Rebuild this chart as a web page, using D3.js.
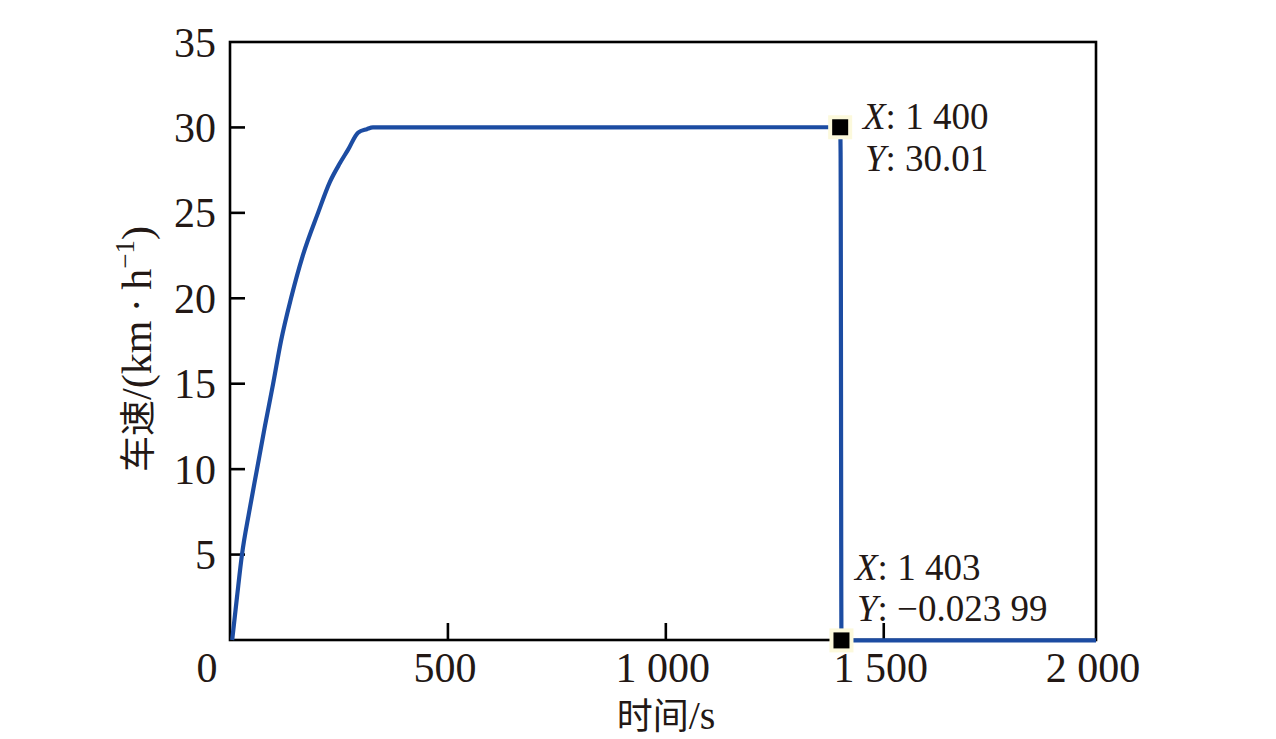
<!DOCTYPE html>
<html><head><meta charset="utf-8">
<script src="https://cdn.jsdelivr.net/npm/d3@7/dist/d3.min.js"></script>
<style>
html,body{margin:0;padding:0;background:#fff;}
svg{display:block;}
</style></head>
<body>
<script>
// ---- data ----
const timeS  = [5, 16, 27.5, 44, 62, 80, 99, 117, 140, 167, 202, 229, 252, 271, 294, 314, 328, 1400, 1401, 1403, 2000];
const speed  = [0, 2.5, 5, 7.5, 10, 12.5, 15, 17.5, 20, 22.5, 25, 26.8, 27.9, 28.7, 29.7, 29.9, 30, 30.01, 28.5, -0.02399, -0.02399];
const xTicks = [0, 500, 1000, 1500, 2000];
const xTickLabels = ["0", "500", "1 000", "1 500", "2 000"];
const yTicks = [5, 10, 15, 20, 25, 30, 35];
const yTickLabels = ["5", "10", "15", "20", "25", "30", "35"];
const tipT = [1400, 1403];
const tipV = [30.01, -0.02399];
const tipXText = ["1 400", "1 403"];
const tipYText = ["30.01", "\u22120.023 99"];

const W = 1276, H = 739;
const L = 230, R = 1096, T = 42, B = 640;
const ink = "#231815", blue = "#1c4ca2";
const serif = "'Liberation Serif','Times New Roman',serif";
const cjk = "'Noto Sans CJK SC',sans-serif";

const svg = d3.select("body").append("svg").attr("width", W).attr("height", H);
const x = d3.scaleLinear().domain([0, 1987]).range([L, R]).clamp(true);
const y = d3.scaleLinear().domain([0, 35]).range([B, T]);

// frame
svg.append("rect").attr("x", L).attr("y", T).attr("width", R - L).attr("height", B - T)
  .attr("fill", "none").attr("stroke", "#000").attr("stroke-width", 2.6);

// y ticks (inward)
svg.append("g").selectAll("line").data(yTicks.slice(0, -1)).join("line")
  .attr("x1", L).attr("x2", L + 15).attr("y1", d => y(d)).attr("y2", d => y(d))
  .attr("stroke", "#000").attr("stroke-width", 2.6);
svg.append("g").selectAll("text").data(yTicks).join("text")
  .attr("x", 216).attr("y", d => y(d) + 14.5).attr("text-anchor", "end")
  .attr("font-family", serif).attr("font-size", 42).attr("fill", ink)
  .text((d, i) => yTickLabels[i]);

// x ticks (inward)
svg.append("g").selectAll("line").data(xTicks.slice(1, -1)).join("line")
  .attr("x1", d => x(d)).attr("x2", d => x(d)).attr("y1", B).attr("y2", B - 17)
  .attr("stroke", "#000").attr("stroke-width", 2.6);
svg.append("g").selectAll("text").data(xTicks).join("text")
  .attr("x", (d, i) => x(d) + (i === 0 ? -23 : -3)).attr("y", 682).attr("text-anchor", "middle")
  .attr("font-family", serif).attr("font-size", 42).attr("fill", ink)
  .text((d, i) => xTickLabels[i]);

// axis titles
const xl = svg.append("text").attr("x", 666).attr("y", 729).attr("text-anchor", "middle").attr("fill", ink);
xl.append("tspan").attr("font-family", cjk).attr("font-size", 36).text("时间");
xl.append("tspan").attr("font-family", serif).attr("font-size", 40).text("/s");

const yl = svg.append("text").attr("transform", "translate(151,349) rotate(-90)")
  .attr("text-anchor", "middle").attr("fill", ink);
yl.append("tspan").attr("font-family", cjk).attr("font-size", 36).text("车速");
yl.append("tspan").attr("font-family", serif).attr("font-size", 42).text("/(km\u2009\u00b7\u2009h");
yl.append("tspan").attr("font-family", serif).attr("font-size", 27).attr("dy", -17).text("\u22121");
yl.append("tspan").attr("font-family", serif).attr("font-size", 42).attr("dy", 17).text(")");

// line
const pts = timeS.map((t, i) => [t, speed[i]]);
svg.append("path").datum(pts)
  .attr("d", d3.line().curve(d3.curveMonotoneX).x(d => x(d[0])).y(d => y(d[1])))
  .attr("fill", "none").attr("stroke", blue).attr("stroke-width", 4.2).attr("stroke-linejoin", "round");

// data tips
const tips = tipT.map((t, i) => ({t, v: tipV[i], xs: tipXText[i], ys: tipYText[i]}));
const tg = svg.append("g").selectAll("g").data(tips).join("g");
tg.append("rect").attr("x", d => x(d.t) - 12).attr("y", d => y(d.v) - 12).attr("width", 24).attr("height", 24)
  .attr("fill", "#fcf9dc");
tg.append("rect").attr("x", d => x(d.t) - 8).attr("y", d => y(d.v) - 8).attr("width", 16).attr("height", 16)
  .attr("fill", "#000");

const tipPos = [[863, 129, 171], [855, 580, 621]];
tips.forEach((d, i) => {
  const [tx, y1, y2] = tipPos[i];
  const t1 = svg.append("text").attr("x", tx).attr("y", y1).attr("font-family", serif).attr("font-size", 37).attr("fill", ink);
  t1.append("tspan").attr("font-style", "italic").text("X");
  t1.append("tspan").text(": " + d.xs);
  const t2 = svg.append("text").attr("x", tx + 2).attr("y", y2).attr("font-family", serif).attr("font-size", 37).attr("fill", ink);
  t2.append("tspan").attr("font-style", "italic").text("Y");
  t2.append("tspan").text(": " + d.ys);
});
</script>
</body></html>
